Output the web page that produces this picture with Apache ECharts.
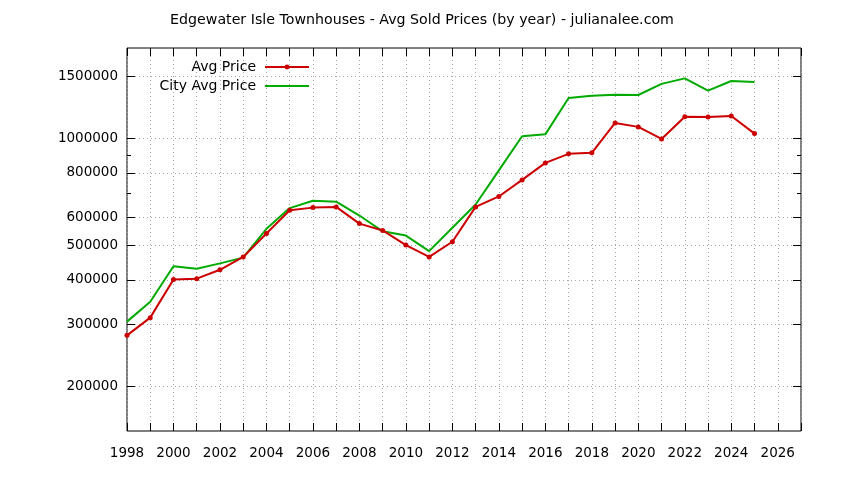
<!DOCTYPE html>
<html>
<head>
<meta charset="utf-8">
<title>Edgewater Isle Townhouses - Avg Sold Prices</title>
<script src="https://cdn.jsdelivr.net/npm/echarts@6/dist/echarts.min.js"></script>
<style>
  html, body { margin: 0; padding: 0; background: #fff; }
  #chart { width: 844px; height: 480px; }
</style>
</head>
<body>
<div id="chart"></div>
<script>
var years = [1998, 1999, 2000, 2001, 2002, 2003, 2004, 2005, 2006, 2007,
  2008, 2009, 2010, 2011, 2012, 2013, 2014, 2015, 2016, 2017,
  2018, 2019, 2020, 2021, 2022, 2023, 2024, 2025];
var avgPrice = [279000, 313000, 401000, 403000, 427000, 464000, 540000, 628000, 639000, 642000,
  576000, 551000, 501000, 464000, 512000, 642000, 687000, 765000, 854000, 906000,
  912000, 1107000, 1079000, 998000, 1153000, 1151000, 1158000, 1033000];
var cityAvgPrice = [305000, 347000, 437000, 430000, 445000, 462000, 557000, 637000, 668000, 664000,
  607000, 548000, 533000, 482000, 561000, 652000, 814000, 1015000, 1028000, 1302000,
  1321000, 1330000, 1327000, 1426000, 1478000, 1365000, 1453000, 1444000];
var yTicks = [200000, 300000, 400000, 500000, 600000, 800000, 1000000, 1500000];
var yMinorTicks = [700000, 900000];

var yMin = 150000;
var yMax = 1800000;
var font = 'DejaVu Sans';
var red = '#cc0000';
var green = '#00aa00';
var gridLine = { color: '#a8a8a8', type: [1, 3], width: 1 };

var chart = echarts.init(document.getElementById('chart'));

function pairs (vals) {
  return years.map(function (y, i) { return [y, vals[i]]; });
}

function log10All (vals) {
  return vals.map(function (v) { return Math.log10(v); });
}

// the tick axes sit in log10 space, on top of the real log axis
function tickAxis (position, ticks, len, showLabel) {
  return {
    type: 'value',
    position: position,
    min: Math.log10(yMin),
    max: Math.log10(yMax),
    axisLine: { show: false },
    axisTick: {
      show: true,
      inside: true,
      length: len,
      customValues: log10All(ticks),
      lineStyle: { color: '#000', width: 1 }
    },
    axisLabel: {
      show: showLabel,
      customValues: log10All(ticks),
      margin: 9,
      color: '#000',
      fontFamily: font,
      fontSize: 13.5,
      formatter: function (v) {
        return String(Math.round(Math.pow(10, v) / 1000) * 1000);
      }
    },
    splitLine: { show: showLabel, lineStyle: gridLine }
  };
}

function legendFor (name, top, iconHeight) {
  return {
    data: [name],
    right: 534,
    top: top,
    padding: 0,
    itemWidth: 44,
    itemHeight: iconHeight,
    align: 'right',
    textStyle: { fontFamily: font, fontSize: 14, color: '#000', padding: [0, 4, 0, 0] }
  };
}

var option = {
  backgroundColor: '#fff',
  animation: false,
  title: {
    text: 'Edgewater Isle Townhouses - Avg Sold Prices (by year) - julianalee.com',
    left: 'center',
    top: 8,
    textStyle: { fontFamily: font, fontSize: 14.2, fontWeight: 'normal', color: '#000' }
  },
  legend: [
    legendFor('Avg Price', 60, 6),
    legendFor('City Avg Price', 79, 2)
  ],
  grid: {
    left: 127,
    right: 43,
    top: 48,
    bottom: 49,
    show: true,
    borderColor: '#000',
    borderWidth: 1,
    containLabel: false
  },
  xAxis: [{
    type: 'value',
    position: 'bottom',
    min: 1998,
    max: 2027,
    interval: 1,
    axisLine: { show: false },
    axisTick: { inside: true, length: 8, lineStyle: { color: '#000' } },
    axisLabel: {
      margin: 15,
      color: '#000',
      fontFamily: font,
      fontSize: 13.5,
      formatter: function (v) { return v % 2 === 0 ? String(v) : ''; }
    },
    splitLine: { show: true, lineStyle: gridLine }
  }, {
    type: 'value',
    position: 'top',
    min: 1998,
    max: 2027,
    interval: 1,
    axisLine: { show: false },
    axisTick: { inside: true, length: 8, lineStyle: { color: '#000' } },
    axisLabel: { show: false },
    splitLine: { show: false }
  }],
  yAxis: [
    {
      type: 'log',
      logBase: 10,
      min: yMin,
      max: yMax,
      show: false
    },
    tickAxis('left', yTicks, 8, true),
    tickAxis('left', yMinorTicks, 4, false),
    tickAxis('right', yTicks, 8, false),
    tickAxis('right', yMinorTicks, 4, false)
  ],
  series: [{
    name: 'Avg Price',
    type: 'line',
    xAxisIndex: 0,
    yAxisIndex: 0,
    data: pairs(avgPrice),
    symbol: 'circle',
    symbolSize: 5,
    showSymbol: true,
    color: red,
    itemStyle: { color: red },
    lineStyle: { color: red, width: 2 },
    z: 3
  }, {
    name: 'City Avg Price',
    type: 'line',
    xAxisIndex: 0,
    yAxisIndex: 0,
    data: pairs(cityAvgPrice),
    symbol: 'none',
    showSymbol: false,
    color: green,
    itemStyle: { color: green },
    lineStyle: { color: green, width: 2 },
    z: 2
  }]
};

chart.setOption(option);
</script>
</body>
</html>
